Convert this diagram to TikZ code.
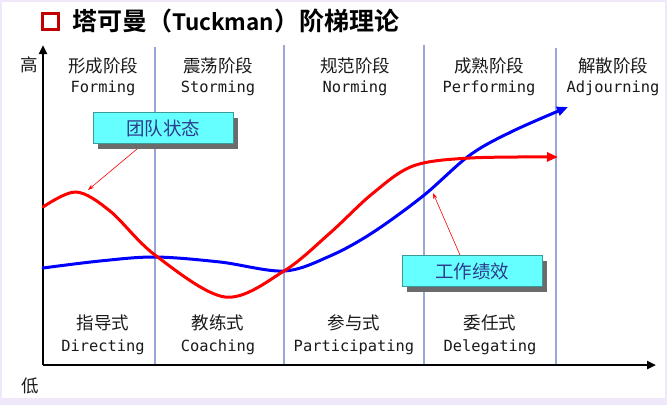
\documentclass[tikz,border=0pt]{standalone}
\usepackage{fontspec}
\usetikzlibrary{arrows.meta}
\newfontfamily\cjk{Noto Sans CJK SC}
\newfontfamily\cjkb{Noto Sans CJK SC Bold}
\newfontfamily\monof{DejaVu Sans Mono}
\definecolor{frameLav}{HTML}{EEE8FA}
\definecolor{sepBlue}{HTML}{9AA6D6}
\definecolor{boxCyan}{HTML}{66FFFF}
\definecolor{boxEdge}{HTML}{3A9A9A}
\definecolor{boxText}{HTML}{2E3A8C}
\definecolor{titleRed}{HTML}{C00000}
\definecolor{txt}{HTML}{1A1A1A}
\tikzset{
  cnlabel/.style={font=\cjk\fontsize{17.5}{17.5}\selectfont, text=txt, inner sep=0pt},
  enlabel/.style={font=\monof\fontsize{15.4}{15.4}\selectfont, text=txt, inner sep=0pt},
  sepline/.style={draw=sepBlue, line width=1.4pt},
  axisline/.style={draw=black, line width=2.6pt},
  callout/.style={draw=boxEdge, line width=0.8pt, fill=boxCyan, minimum width=140pt, minimum height=31pt,
     font=\cjk\fontsize{18.5}{18.5}\selectfont, text=boxText, inner sep=0pt},
  shadowbox/.style={fill=black!58, draw=none, minimum width=140pt, minimum height=31pt, inner sep=0pt},
  pointer/.style={draw=red, line width=0.6pt, -{Stealth[length=6pt,width=4pt]}},
  curve/.style={line width=3pt, line cap=round, -{Triangle[length=11pt,width=9pt]}}
}
\begin{document}
\begin{tikzpicture}[x=1pt,y=-1pt]
\useasboundingbox (0,0) rectangle (667,405);
% frame / background
\fill[frameLav] (0,0) rectangle (667,405);
\fill[white] (2,2) rectangle (665,398);
% title
\node[draw=titleRed, line width=3.2pt, minimum size=16pt, inner sep=0pt] (tsq) at (50.5,21.5) {};
\node[anchor=west, font=\cjkb\fontsize{25}{25}\selectfont, inner sep=0pt] (title) at (72,21) {塔可曼（{\fontsize{22.5}{22.5}\selectfont Tuckman}）阶梯理论};
% separators
\coordinate (s1t) at (155,47); \coordinate (s1b) at (155,365);
\coordinate (s2t) at (284,45); \coordinate (s2b) at (284,365);
\coordinate (s3t) at (424,45); \coordinate (s3b) at (424,365);
\coordinate (s4t) at (556,48); \coordinate (s4b) at (556,365);
\draw[sepline] (s1t) -- (s1b);
\draw[sepline] (s2t) -- (s2b);
\draw[sepline] (s3t) -- (s3b);
\draw[sepline] (s4t) -- (s4b);
% axes
\coordinate (org) at (43,365);
\coordinate (ytop) at (43,45);
\coordinate (xend) at (656,365);
\draw[axisline, -{Triangle[length=9pt,width=8pt]}] (org) -- (ytop);
\draw[axisline, -{Triangle[length=9pt,width=8pt]}] (org) -- (xend);
\node[cnlabel] (hi) at (29,65) {高};
\node[cnlabel] (lo) at (30,386) {低};
% stage labels (top)
\node[cnlabel] (f1) at (103,66) {形成阶段};
\node[enlabel] (f2) at (103,88) {Forming};
\node[cnlabel] (s1) at (218,66) {震荡阶段};
\node[enlabel] (s2) at (218,88) {Storming};
\node[cnlabel] (n1) at (355,66) {规范阶段};
\node[enlabel] (n2) at (355,88) {Norming};
\node[cnlabel] (p1) at (489,66) {成熟阶段};
\node[enlabel] (p2) at (489,88) {Performing};
\node[cnlabel] (a1) at (613,66) {解散阶段};
\node[enlabel] (a2) at (613,88) {Adjourning};
% leadership styles (bottom)
\node[cnlabel] (d1) at (103,323) {指导式};
\node[enlabel] (d2) at (103,347) {Directing};
\node[cnlabel] (c1) at (218,323) {教练式};
\node[enlabel] (c2) at (218,347) {Coaching};
\node[cnlabel] (pa1) at (354,323) {参与式};
\node[enlabel] (pa2) at (354,347) {Participating};
\node[cnlabel] (de1) at (490,323) {委任式};
\node[enlabel] (de2) at (490,347) {Delegating};
% curves
\draw[curve, blue] plot[smooth, tension=0.55] coordinates
  {(43,268) (100,261) (155,257) (220,262) (284,271) (330,256) (372,233) (423,196) (470,155) (513,131) (568,107)};
\draw[curve, red] plot[smooth, tension=0.55] coordinates
  {(43,207) (76,192) (110,211) (155,255) (225,297) (284,271) (330,233) (372,194) (413,166) (470,158) (558,157)};
% callouts
\node[shadowbox] (tsh) at (168,133) {};
\node[callout] (tbox) at (163,128) {团队状态};
\node[shadowbox] (wsh) at (477,276) {};
\node[callout] (wbox) at (472,271) {工作绩效};
\coordinate (t1s) at (137,149);
\coordinate (t1e) at (88,190);
\coordinate (w1s) at (460,255);
\coordinate (w1e) at (433,193);
\draw[pointer] (t1s) -- (t1e);
\draw[pointer] (w1s) -- (w1e);
\end{tikzpicture}
\end{document}
